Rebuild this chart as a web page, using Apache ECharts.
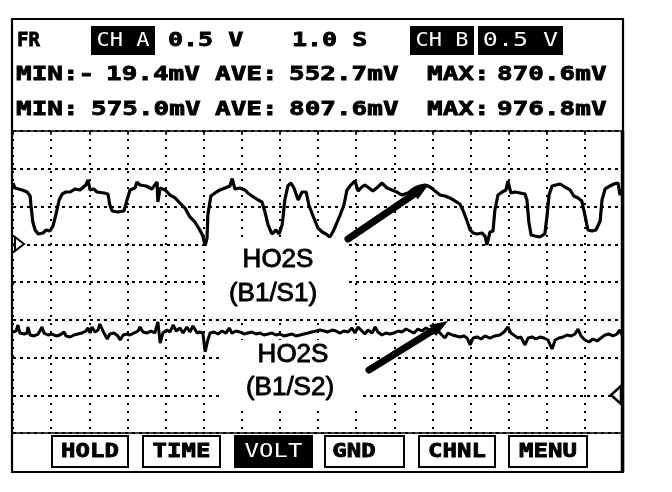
<!DOCTYPE html>
<html><head><meta charset="utf-8">
<script src="https://cdn.jsdelivr.net/npm/echarts@6/dist/echarts.min.js"></script>
<style>html,body{margin:0;padding:0;background:#fff}#c{width:672px;height:492px}</style>
</head><body><div id="c"></div>
<script>
// ---- data (time in s, 1.0 S/div; voltage in mV, 0.5 V/div) ----
const chA = [[0,811],[0.05,745],[0.24,719],[0.37,692],[0.45,639],[0.47,520],[0.52,295],[0.58,189],[0.66,136],[0.71,162],[0.79,149],[0.87,189],[0.97,175],[1.05,242],[1.13,401],[1.21,586],[1.29,666],[1.39,692],[1.50,692],[1.63,732],[1.76,719],[1.91,785],[1.97,851],[2.02,719],[2.12,732],[2.20,692],[2.39,679],[2.49,666],[2.54,520],[2.60,440],[2.75,427],[2.91,440],[2.99,586],[3.07,719],[3.20,745],[3.25,824],[3.33,785],[3.49,772],[3.65,732],[3.72,785],[3.78,824],[3.80,560],[3.86,745],[3.99,719],[4.12,652],[4.25,613],[4.38,546],[4.51,480],[4.64,361],[4.77,295],[4.90,189],[4.98,109],[5.04,-19],[5.09,83],[5.11,387],[5.19,639],[5.30,679],[5.43,719],[5.56,745],[5.69,772],[5.75,870],[5.82,732],[5.95,745],[6.08,719],[6.16,679],[6.27,639],[6.43,586],[6.53,560],[6.61,427],[6.69,255],[6.79,136],[6.90,189],[6.98,136],[7.06,255],[7.13,586],[7.21,772],[7.29,811],[7.37,745],[7.48,586],[7.58,692],[7.69,692],[7.76,520],[7.87,374],[8.00,215],[8.11,162],[8.21,136],[8.31,96],[8.39,162],[8.47,255],[8.58,387],[8.68,520],[8.76,719],[8.84,772],[8.97,838],[9.05,705],[9.15,758],[9.23,785],[9.34,745],[9.44,705],[9.57,758],[9.68,811],[9.81,745],[9.94,719],[10.07,692],[10.20,652],[10.36,679],[10.54,745],[10.68,772],[10.81,785],[10.94,758],[11.07,705],[11.20,652],[11.33,639],[11.46,613],[11.59,573],[11.72,533],[11.80,454],[11.91,308],[11.99,189],[12.07,149],[12.17,136],[12.30,149],[12.38,109],[12.43,-10],[12.51,162],[12.59,175],[12.64,454],[12.72,652],[12.83,692],[12.93,719],[12.98,838],[13.06,679],[13.17,692],[13.30,679],[13.43,666],[13.48,586],[13.53,295],[13.59,123],[13.69,109],[13.82,96],[13.95,136],[14.01,387],[14.06,652],[14.14,772],[14.24,785],[14.35,798],[14.48,758],[14.61,719],[14.71,639],[14.82,613],[14.92,573],[15.00,387],[15.08,189],[15.19,175],[15.29,189],[15.40,308],[15.45,586],[15.53,732],[15.66,772],[15.76,798],[15.87,811],[15.92,652],[15.97,719]];

const chB = [[0,838],[0.08,851],[0.13,930],[0.18,824],[0.29,811],[0.37,824],[0.39,904],[0.45,798],[0.55,785],[0.66,811],[0.76,904],[0.81,824],[0.92,798],[1.02,811],[1.13,785],[1.23,798],[1.34,838],[1.39,785],[1.50,772],[1.60,798],[1.70,811],[1.81,824],[1.91,851],[1.97,891],[2.02,824],[2.07,904],[2.15,838],[2.23,864],[2.28,944],[2.36,851],[2.47,745],[2.54,811],[2.65,824],[2.75,785],[2.81,732],[2.89,798],[2.99,811],[3.07,798],[3.17,824],[3.28,851],[3.33,904],[3.41,838],[3.51,824],[3.62,851],[3.72,824],[3.80,970],[3.86,692],[3.93,824],[4.04,864],[4.12,838],[4.20,930],[4.28,851],[4.38,891],[4.46,824],[4.56,904],[4.64,838],[4.72,917],[4.83,824],[4.90,838],[4.98,824],[5.04,575],[5.11,732],[5.17,824],[5.27,838],[5.38,811],[5.48,851],[5.59,824],[5.67,891],[5.74,824],[5.85,851],[5.95,838],[6.06,811],[6.16,824],[6.27,838],[6.37,811],[6.48,824],[6.58,798],[6.69,811],[6.79,824],[6.90,798],[7.00,811],[7.11,785],[7.21,798],[7.32,811],[7.42,785],[7.53,798],[7.63,811],[7.74,824],[7.84,838],[7.95,851],[8.05,864],[8.16,851],[8.26,838],[8.37,864],[8.47,851],[8.58,824],[8.68,851],[8.79,838],[8.89,891],[8.97,824],[9.05,904],[9.15,851],[9.23,811],[9.31,864],[9.42,824],[9.50,904],[9.57,838],[9.68,798],[9.78,824],[9.89,811],[9.99,824],[10.10,851],[10.20,838],[10.31,877],[10.41,851],[10.52,824],[10.62,877],[10.73,851],[10.83,891],[10.94,864],[11.04,824],[11.15,851],[11.25,798],[11.33,758],[11.41,824],[11.52,798],[11.62,785],[11.72,772],[11.83,785],[11.91,758],[11.99,666],[12.07,758],[12.17,772],[12.28,745],[12.38,785],[12.51,758],[12.64,785],[12.77,798],[12.88,838],[12.98,904],[13.06,824],[13.17,785],[13.25,758],[13.32,772],[13.43,666],[13.51,758],[13.61,772],[13.72,745],[13.82,772],[13.93,758],[14.03,732],[14.14,613],[14.22,732],[14.32,758],[14.43,772],[14.53,798],[14.64,785],[14.74,811],[14.82,877],[14.90,785],[15.00,732],[15.11,705],[15.21,745],[15.32,719],[15.42,758],[15.53,798],[15.63,811],[15.74,785],[15.84,811],[15.92,864],[15.97,798]];

const header1 = ['FR', 'CH A', '0.5 V', '1.0 S', 'CH B', '0.5 V'];
const statsA = ['MIN:-', '19.4mV', 'AVE:', '552.7mV', 'MAX:', '870.6mV'];
const statsB = ['MIN:', '575.0mV', 'AVE:', '807.6mV', 'MAX:', '976.8mV'];
const buttons = ['HOLD', 'TIME', 'VOLT', 'GND', 'CHNL', 'MENU'];
const labelA = ['HO2S', '(B1/S1)'];
const labelB = ['HO2S', '(B1/S2)'];

// ---- layout ----
const MONO_B = 'bold 20px "DejaVu Sans Mono"';
const MONO = '20px "DejaVu Sans Mono"';
const SANS = '26px "Liberation Sans", Arial, sans-serif';

function txt(str, x, y, opts) {
  opts = opts || {};
  const st = {
    text: str, x: 0, y: 0,
    font: opts.font || MONO_B,
    fill: opts.fill || '#000',
    textAlign: opts.align || 'left',
    textVerticalAlign: 'middle'
  };
  if (opts.heavy) { st.stroke = opts.fill || '#000'; st.lineWidth = opts.heavy; }
  return {type: 'text', x: x, y: y, scaleX: opts.sx || 1, z: 20, style: st};
}
function box(x1, y1, x2, y2, fill, lw, z) {
  return {type: 'rect', z: z || 15, shape: {x: x1, y: y1, width: x2 - x1, height: y2 - y1},
    style: {fill: fill || '#fff', stroke: lw ? '#000' : null, lineWidth: lw || 0}};
}
function arrow(x1, y1, x2, y2) {
  const dx = x2 - x1, dy = y2 - y1, L = Math.hypot(dx, dy);
  const ux = dx / L, uy = dy / L, px = -uy, py = ux;
  const hl = 18, hw = 6.5;
  const bx = x2 - ux * hl, by = y2 - uy * hl;
  return [
    {type: 'line', z: 25, shape: {x1: x1, y1: y1, x2: bx + ux * 2, y2: by + uy * 2},
      style: {stroke: '#000', lineWidth: 7, lineCap: 'round'}},
    {type: 'polygon', z: 25, shape: {points: [[x2, y2], [bx + px * hw, by + py * hw], [bx - px * hw, by - py * hw]]},
      style: {fill: '#000'}}
  ];
}

const g = [];
// outer frame
g.push({type: 'rect', z: 30, shape: {x: 12, y: 19, width: 611, height: 453}, style: {fill: null, stroke: '#000', lineWidth: 2.2}});
g.push({type: 'line', z: 30, shape: {x1: 622.5, y1: 131, x2: 622.5, y2: 472}, style: {stroke: '#000', lineWidth: 3.5}});
// header row 1
g.push(txt(header1[0], 17, 41, {sx: 0.95, heavy: 0.8}));
g.push(box(91, 26, 155, 55, '#000', 0));
g.push(txt(header1[1], 123, 41, {font: MONO, fill: '#fff', align: 'center', sx: 1.1}));
g.push(txt(header1[2], 168, 41, {sx: 1.25, heavy: 0.8}));
g.push(txt(header1[3], 292, 41, {sx: 1.25, heavy: 0.8}));
g.push(box(410, 26, 474, 55, '#000', 0));
g.push(txt(header1[4], 442, 41, {font: MONO, fill: '#fff', align: 'center', sx: 1.1}));
g.push(box(478, 26, 563, 55, '#000', 0));
g.push(txt(header1[5], 520.5, 41, {font: MONO, fill: '#fff', align: 'center', sx: 1.25}));
// header rows 2,3
const xsA = [16, 106, 215, 289, 427, 497];
const xsB = [16, 91, 215, 289, 427, 497];
statsA.forEach((s, i) => g.push(txt(s, xsA[i], 75, {sx: 1.3, heavy: 0.8})));
statsB.forEach((s, i) => g.push(txt(s, xsB[i], 110, {sx: 1.3, heavy: 0.8})));
// bottom separator
g.push({type: 'line', z: 30, shape: {x1: 12, y1: 433, x2: 623, y2: 433}, style: {stroke: '#000', lineWidth: 1.5}});
// buttons
const bx = [[52, 128], [143, 220], [235, 312], [325, 404], [419, 495], [509, 587]];
buttons.forEach((b, i) => {
  const on = b === 'VOLT';
  g.push(box(bx[i][0], 436, bx[i][1], 467, on ? '#000' : '#fff', 2));
  const cx = b === 'GND' ? 354 : (bx[i][0] + bx[i][1]) / 2;
  g.push(txt(b, cx, 452, on ? {align: 'center', sx: 1.2, font: MONO, fill: '#fff'}
    : {align: 'center', sx: 1.2, heavy: 0.8}));
});
// white backgrounds behind the annotation labels (they hide the grid)
g.push(box(205, 241, 348, 318, '#fff', 0, 5));
g.push(box(222, 340, 362, 410, '#fff', 0, 5));
// channel ground markers
g.push({type: 'polygon', z: 25, shape: {points: [[15, 237], [24, 244], [15, 251]]}, style: {fill: '#fff', stroke: '#000', lineWidth: 2}});
g.push({type: 'polygon', z: 25, shape: {points: [[621, 386], [611, 395], [621, 404]]}, style: {fill: '#fff', stroke: '#000', lineWidth: 2.5}});
// annotations
g.push(txt(labelA[0], 278, 260, {font: SANS, align: 'center', heavy: 0.9}));
g.push(txt(labelA[1], 273, 294, {font: SANS, align: 'center', heavy: 0.9}));
g.push(txt(labelB[0], 293, 355, {font: SANS, align: 'center', heavy: 0.9}));
g.push(txt(labelB[1], 290, 388, {font: SANS, align: 'center', heavy: 0.9}));
arrow(348, 239, 429, 184).forEach(e => g.push(e));
arrow(369, 370, 448, 321).forEach(e => g.push(e));

const chart = echarts.init(document.getElementById('c'), null, {renderer: 'canvas'});
chart.setOption({
  animation: false,
  backgroundColor: '#fff',
  grid: {left: 13, top: 131, width: 610, height: 302, containLabel: false},
  xAxis: [
    {type: 'value', min: 0, max: 16, interval: 1,
      axisLine: {show: false}, axisTick: {show: false}, axisLabel: {show: false},
      splitLine: {show: true, lineStyle: {color: '#000', width: 2, type: [2, 6]}}},
    {type: 'value', position: 'top', min: 0, max: 16, interval: 1,
      axisLine: {show: true, onZero: false, lineStyle: {color: '#000', width: 1.5}},
      axisTick: {show: true, inside: true, length: 4, lineStyle: {color: '#000', width: 1.5}},
      axisLabel: {show: false}, splitLine: {show: false}}
  ],
  yAxis: [
    {type: 'value', min: -2500, max: 1500, interval: 500,
      axisLine: {show: false}, axisTick: {show: false}, axisLabel: {show: false},
      splitLine: {show: true, lineStyle: {color: '#000', width: 2, type: [3, 4]}}},
    {type: 'value', min: -500, max: 3500, interval: 500,
      axisLine: {show: false}, axisTick: {show: false}, axisLabel: {show: false},
      splitLine: {show: false}}
  ],
  series: [
    {name: 'CH A', type: 'line', xAxisIndex: 0, yAxisIndex: 0, data: chA, showSymbol: false, symbol: 'none',
      lineStyle: {color: '#000', width: 3.2}, z: 10, silent: true},
    {name: 'CH B', type: 'line', xAxisIndex: 0, yAxisIndex: 1, data: chB, showSymbol: false, symbol: 'none',
      lineStyle: {color: '#000', width: 3}, z: 10, silent: true}
  ],
  graphic: g
});
</script>
</body></html>
